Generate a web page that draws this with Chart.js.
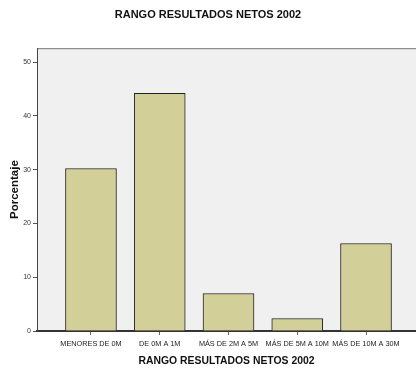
<!DOCTYPE html>
<html>
<head>
<meta charset="utf-8">
<script src="https://cdn.jsdelivr.net/npm/chart.js@4"></script>
<style>
  html, body { margin: 0; padding: 0; background: #fff; }
  #wrap { width: 416px; height: 369px; }
</style>
</head>
<body>
<div id="wrap"><canvas id="myChart" width="416" height="369"></canvas></div>
<script>
// chart data
const categories = ['MENORES DE 0M', 'DE 0M A 1M', 'MÁS DE 2M A 5M', 'MÁS DE 5M A 10M', 'MÁS DE 10M A 30M'];
const percentages = [30.23, 44.19, 6.98, 2.33, 16.28];
const yTicks = [0, 10, 20, 30, 40, 50];

const FONT = 'Liberation Sans, Arial, sans-serif';

// grey panel behind the bars + top frame line
const panelBackground = {
  id: 'panelBackground',
  beforeDraw(chart) {
    const { ctx, chartArea: a } = chart;
    ctx.save();
    ctx.fillStyle = '#f0f0f0';
    ctx.fillRect(a.left, a.top, a.right - a.left, a.bottom - a.top);
    ctx.strokeStyle = '#777';
    ctx.lineWidth = 1;
    ctx.beginPath();
    ctx.moveTo(a.left, a.top + 0.5);
    ctx.lineTo(a.right, a.top + 0.5);
    ctx.stroke();
    ctx.restore();
  }
};

const ctx = document.getElementById('myChart').getContext('2d');
new Chart(ctx, {
  type: 'bar',
  data: {
    datasets: [
      {
        label: 'Porcentaje',
        data: percentages.map((v, i) => ({ x: i + 1, y: v })),
        backgroundColor: '#d3cf98',
        borderColor: '#222',
        borderWidth: 1,
        barThickness: 51,
      },
    ],
  },
  options: {
    responsive: false,
    animation: false,
    layout: { padding: 0 },
    plugins: {
      legend: { display: false },
      tooltip: { enabled: false },
      title: {
        display: true,
        text: 'RANGO RESULTADOS NETOS 2002',
        color: '#111',
        font: { family: FONT, size: 11, weight: 'bold' },
        padding: { top: 8, bottom: 27 },
      },
    },
    scales: {
      x: {
        type: 'linear',
        offset: false,
        min: 0.215,
        max: 5.727,
        afterBuildTicks: (scale) => {
          scale.ticks = categories.map((c, i) => ({ value: i + 1 }));
        },
        afterFit: (scale) => { scale.height = 38; },
        ticks: {
          autoSkip: false,
          maxRotation: 0,
          padding: 5,
          color: '#222',
          font: { family: FONT, size: 7.3 },
          callback: (v) => categories[v - 1],
        },
        grid: { offset: false, drawOnChartArea: false, tickLength: 4, color: '#666' },
        border: { display: true, color: '#333', width: 2 },
        title: {
          display: true,
          text: 'RANGO RESULTADOS NETOS 2002',
          color: '#111',
          font: { family: FONT, size: 10.4, weight: 'bold' },
          padding: { top: 0, bottom: 2 },
        },
      },
      y: {
        min: 0,
        max: 52.6,
        afterBuildTicks: (scale) => {
          scale.ticks = yTicks.map((v) => ({ value: v }));
        },
        afterFit: (scale) => { scale.width = 37; },
        ticks: {
          padding: 2,
          color: '#333',
          font: { family: FONT, size: 7 },
        },
        grid: { drawOnChartArea: false, tickLength: 4, color: '#555' },
        border: { display: true, color: '#444', width: 1 },
        title: {
          display: true,
          text: 'Porcentaje',
          color: '#111',
          font: { family: FONT, size: 11.5, weight: 'bold' },
          padding: { top: 8, bottom: 0 },
        },
      },
    },
  },
  plugins: [panelBackground],
});
</script>
</body>
</html>
